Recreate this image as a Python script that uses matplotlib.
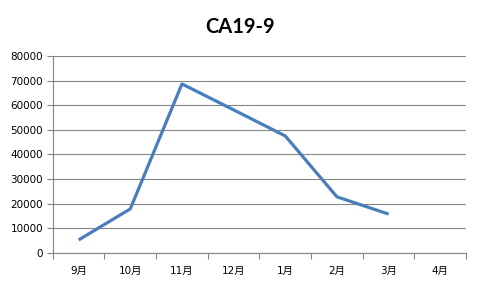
import matplotlib
matplotlib.use("Agg")
import matplotlib.pyplot as plt
import numpy as np

plt.rcParams['font.family'] = ['DejaVu Sans', 'Noto Sans CJK SC']

# Data
months = ['9月', '10月', '11月', '12月', '1月', '2月', '3月', '4月']
values = [5300, 17900, 68600, 58100, 47500, 22800, 15800, np.nan]
y_ticks = list(range(0, 80001, 10000))

fig = plt.figure(figsize=(4.8, 2.88), dpi=100)
ax = fig.add_axes([0.110, 0.1215, 0.861, 0.6845])

x = np.arange(len(months))
ax.plot(x, values, color='#4a7ebb', linewidth=2.3, solid_capstyle='butt')

ax.set_xlim(-0.5, len(months) - 0.5)
ax.set_ylim(0, 80000)
ax.set_yticks(y_ticks)
ax.set_yticklabels([str(v) for v in y_ticks], fontsize=7.5)
ax.set_xticks(x)
ax.set_xticklabels(months, fontsize=7.5)
ax.set_xticks(np.arange(-0.5, len(months)), minor=True)
ax.tick_params(axis='x', which='major', length=0, pad=9)
ax.tick_params(axis='x', which='minor', length=4, color='#868686', width=0.8)
ax.tick_params(axis='y', length=4, color='#868686', width=0.8, pad=3)

ax.grid(axis='y', color='#868686', linewidth=0.8)
ax.set_axisbelow(True)
for s in ['top', 'right']:
    ax.spines[s].set_visible(False)
for s in ['left', 'bottom']:
    ax.spines[s].set_color('#868686')
    ax.spines[s].set_linewidth(0.8)

fig.text(0.5, 0.905, 'CA19-9', ha='center', va='center',
         fontsize=14.5, fontweight='bold', family='Lato')

fig.savefig('out.png', dpi=100)
